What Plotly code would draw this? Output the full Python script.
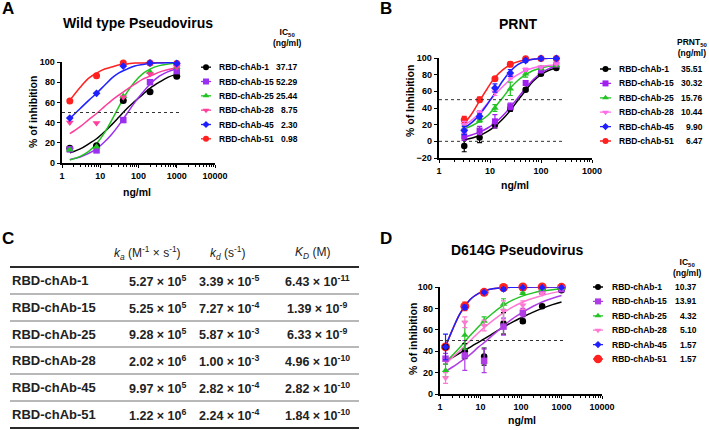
import plotly.graph_objects as go

W, H = 709, 430
FONT = "Liberation Sans"


def fx(p):
    return p / W


def fy(p):
    return 1 - p / H


names = ["RBD-chAb-1", "RBD-chAb-15", "RBD-chAb-25", "RBD-chAb-28", "RBD-chAb-45", "RBD-chAb-51"]
symbols = ["circle", "square", "triangle-up", "triangle-down", "diamond", "circle"]

# ---------------- Panel A : Wild type Pseudovirus ----------------
a_dose = [1.6, 8, 40, 200, 1000]
a_ab1 = [14.5, 17, 62, 70.5, 86]
a_ab15 = [13.5, 12.5, 42.5, 80, 91]
a_ab25 = [13, 16, 66, 90, 95]
a_ab28 = [40, 39.5, 65, 88, 95]
a_ab45 = [44.5, 69, 96, 99, 98.5]
a_ab51 = [61.5, 86.5, 99, 99, 98.5]
a_curve_x = [1.6, 3, 5, 8, 13, 20, 30, 50, 80, 130, 200, 350, 600, 1000]
a_fit_ab1 = [10, 14, 19, 24, 31, 38, 45, 54, 61, 68, 74, 80, 85, 88]
a_fit_ab15 = [3.5, 6, 9.5, 14, 21, 28.5, 37, 49, 60, 70, 78, 86, 90.5, 93]
a_fit_ab25 = [3, 6.5, 11.5, 19, 30, 42.5, 55, 70, 80.5, 88.5, 93, 96.4, 98, 99]
a_fit_ab28 = [29, 36, 43, 49, 56, 62, 67, 73, 78, 83, 86, 90, 92.5, 94.5]
a_fit_ab45 = [44, 54, 62, 69, 77, 84, 89, 93, 96, 97.5, 98.5, 99, 99.3, 99.5]
a_fit_ab51 = [62, 75, 84, 89, 93, 95, 97, 98, 99, 99, 99.5, 99.7, 99.8, 99.9]
a_ic50 = [37.17, 52.29, 25.44, 8.75, 2.30, 0.98]

# ---------------- Panel B : PRNT ----------------
b_dose = [3.125, 6.25, 12.5, 25, 50, 100, 200]
b_ab1 = [-5.5, 4.5, 20, 39, 62, 81, 88]
b_ab15 = [6, 13, 24, 42, 70, 85, 92]
b_ab25 = [16, 25, 40, 63, 81, 88, 91]
b_ab28 = [20, 34, 59, 78, 86, 89, 93]
b_ab45 = [13, 30, 64, 82, 97, 99.5, 99.5]
b_ab51 = [26, 50, 75, 92.5, 99, 99.5, 99.5]
b_err_ab1 = [7, 6, 4, 3, 1.5, 1.5, 1]
b_err_ab15 = [5, 5, 8, 4, 3, 2, 1]
b_err_ab25 = [3, 2, 4, 8, 4, 2, 1]
b_err_ab28 = [4, 3, 4, 3, 2, 1, 1]
b_err_ab45 = [5, 3, 5, 4, 2, 0.5, 0.5]
b_err_ab51 = [4, 3, 2, 3, 1, 0.5, 0.5]
b_curve_x = [3.125, 4.5, 6.25, 9, 12.5, 18, 25, 35, 50, 70, 100, 140, 200]
b_fit_ab1 = [2, 4, 7, 12, 18, 27, 37, 49, 61, 72, 80, 85, 88]
b_fit_ab15 = [5, 8, 11, 16, 22, 31, 41, 52, 64, 74, 82, 87, 90]
b_fit_ab25 = [15, 19, 24, 31, 41, 53, 64, 73, 80, 85, 88, 90, 91]
b_fit_ab28 = [19, 26, 34, 46, 56, 66, 74, 80, 85, 88, 90, 91, 91.5]
b_fit_ab45 = [16, 23, 32, 45, 58, 73, 84, 92, 96.5, 98.5, 99.3, 99.6, 99.8]
b_fit_ab51 = [21, 34, 48.5, 64, 76.5, 86, 92, 95.5, 97.5, 98.6, 99.3, 99.6, 99.8]
b_prnt50 = [35.51, 30.32, 15.76, 10.44, 9.90, 6.47]

# ---------------- Panel D : D614G Pseudovirus ----------------
d_dose = [1.37, 4.1, 12.3, 37, 111, 333, 1000]
d_ab1 = [44, 40, 35, 66, 68, 82, 97]
d_ab15 = [33, 36, 31, 63, 76, 96, 98]
d_ab25 = [22, 55, 68, 84, 94, 98, 99]
d_ab28 = [15, 67, 64, 78, 83, 94, 99]
d_ab45 = [44, 81, 95, 98, 99.5, 99.5, 99.5]
d_ab51 = [44, 82, 95, 99.5, 100, 100, 99.7]
d_err_ab1 = [2, 7, 8, 10, 2, 1, 1]
d_err_ab15 = [5, 14, 11, 8, 4, 2, 1]
d_err_ab25 = [6, 13, 4, 5, 1, 1, 0.5]
d_err_ab28 = [5, 5, 5, 9, 4, 1, 0.5]
d_err_ab45 = [12, 2, 1, 1.5, 0.5, 0.5, 0.5]
d_err_ab51 = [2, 4, 2, 1, 0.5, 0.5, 0.5]
d_curve_x = [1.37, 2, 3, 4.1, 6, 9, 12.3, 20, 37, 60, 111, 200, 333, 600, 1000]
d_fit_ab1 = [31, 34, 38, 41, 44.5, 48.5, 51.5, 56.5, 62.5, 67, 72, 76.5, 80, 83.5, 86]
d_fit_ab15 = [21, 25, 29.5, 33, 38, 44, 48, 55, 63.5, 70, 76.5, 82, 86, 89.5, 92]
d_fit_ab25 = [30, 36, 43, 49, 56, 63, 68.5, 75.5, 83, 87.5, 91.7, 94.5, 96.2, 97.5, 98.3]
d_fit_ab28 = [28, 34, 40, 45, 51, 57.5, 62, 68.5, 76, 81, 86, 89.5, 92, 94.5, 96]
d_fit_ab45 = [44.5, 59.5, 74, 82, 89.5, 94, 96.4, 98.3, 99.4, 99.7, 99.8, 99.9, 99.9, 99.9, 99.9]
d_fit_ab51 = [44.5, 59.5, 74, 82, 89.5, 94, 96.4, 98.3, 99.4, 99.7, 99.8, 99.9, 99.9, 99.9, 99.9]
d_ic50 = [10.37, 13.91, 4.32, 5.10, 1.57, 1.57]

# ---------------- Panel C : kinetics table ----------------
c_ka_mant = [5.27, 5.25, 9.28, 2.02, 9.97, 1.22]
c_ka_exp = [5, 5, 5, 6, 5, 6]
c_kd_mant = [3.39, 7.27, 5.87, 1.00, 2.82, 2.24]
c_kd_exp = [-5, -4, -3, -3, -4, -4]
c_KD_mant = [6.43, 1.39, 6.33, 4.96, 2.82, 1.84]
c_KD_exp = [-11, -9, -9, -10, -10, -10]

colors_a = ["#000000", "#9B2FEF", "#22C322", "#FF3D9A", "#1F1FFF", "#FF2020"]
colors_b = ["#000000", "#A020F0", "#22C322", "#FF6BEB", "#1F1FFF", "#FF2020"]
colors_d = ["#000000", "#B03CE6", "#22C322", "#FF78D2", "#1F1FFF", "#FF2020"]

fig = go.Figure()

draw_order = [5, 0, 1, 2, 3, 4]


def add_panel(xa, ya, dose, pts, errs, cx, fits, colors, sizes):
    for i in draw_order:
        fig.add_trace(go.Scatter(x=cx, y=fits[i], mode="lines", line=dict(color=colors[i], width=1.5, shape="spline"),
                                 xaxis=xa, yaxis=ya, hoverinfo="skip", cliponaxis=False))
    for i in draw_order:
        ey = None
        if errs is not None:
            ey = dict(type="data", array=errs[i], visible=True, thickness=1.2, width=2.5, color=colors[i])
        fig.add_trace(go.Scatter(x=dose, y=pts[i], mode="markers", error_y=ey,
                                 marker=dict(symbol=symbols[i], size=sizes[i], color=colors[i], line=dict(width=0)),
                                 xaxis=xa, yaxis=ya, name=names[i], cliponaxis=False))


add_panel("x", "y", a_dose, [a_ab1, a_ab15, a_ab25, a_ab28, a_ab45, a_ab51], None, a_curve_x,
          [a_fit_ab1, a_fit_ab15, a_fit_ab25, a_fit_ab28, a_fit_ab45, a_fit_ab51], colors_a, [7, 6.5, 7, 7, 6, 7])
add_panel("x2", "y2", b_dose, [b_ab1, b_ab15, b_ab25, b_ab28, b_ab45, b_ab51],
          [b_err_ab1, b_err_ab15, b_err_ab25, b_err_ab28, b_err_ab45, b_err_ab51], b_curve_x,
          [b_fit_ab1, b_fit_ab15, b_fit_ab25, b_fit_ab28, b_fit_ab45, b_fit_ab51], colors_b, [6.5, 6, 6.5, 6.5, 6, 7])
add_panel("x3", "y3", d_dose, [d_ab1, d_ab15, d_ab25, d_ab28, d_ab45, d_ab51],
          [d_err_ab1, d_err_ab15, d_err_ab25, d_err_ab28, d_err_ab45, d_err_ab51], d_curve_x,
          [d_fit_ab1, d_fit_ab15, d_fit_ab25, d_fit_ab28, d_fit_ab45, d_fit_ab51], colors_d, [6.5, 6.5, 6.5, 6.5, 5.5, 9])


# legend keys
def add_keys(xa, ya, colors, sizes):
    for i, n in enumerate(names):
        fig.add_trace(go.Scatter(x=[0, 1], y=[i, i], mode="lines", line=dict(color=colors[i], width=1.3),
                                 xaxis=xa, yaxis=ya, hoverinfo="skip", cliponaxis=False))
        fig.add_trace(go.Scatter(x=[0.5], y=[i], mode="markers",
                                 marker=dict(symbol=symbols[i], size=sizes[i], color=colors[i], line=dict(width=0)),
                                 xaxis=xa, yaxis=ya, hoverinfo="skip", cliponaxis=False))


add_keys("x4", "y4", colors_a, [6, 6, 6, 6, 5.5, 6])
add_keys("x5", "y5", colors_b, [6, 6, 6, 6, 5.5, 6])
add_keys("x6", "y6", colors_d, [6, 6, 6, 6, 5.5, 8.5])

minor_vals = [m * 10 ** k for k in range(0, 4) for m in range(2, 10)]
tickfont = dict(family=FONT, size=9, color="black", weight="bold")


def log_axis(d0, d1, rng, ticks, anchor):
    return dict(type="log", domain=[fx(d0), fx(d1)], range=rng, tickvals=ticks, ticktext=[str(t) for t in ticks],
                showline=True, linecolor="black", linewidth=1.6, ticks="outside", ticklen=3.5, tickwidth=1.3,
                tickcolor="black", tickfont=tickfont, showgrid=False, zeroline=False, anchor=anchor,
                automargin=False, fixedrange=True,
                minor=dict(tickmode="array", tickvals=minor_vals, ticks="outside", ticklen=2.5, tickwidth=1,
                           tickcolor="black", showgrid=False))


def lin_axis(p_top, p_bot, rng, ticks, anchor):
    return dict(domain=[fy(p_bot), fy(p_top)], range=rng, tickvals=ticks, showline=True, linecolor="black",
                linewidth=1.6, ticks="outside", ticklen=3.5, tickwidth=1.3, tickcolor="black", tickfont=tickfont,
                showgrid=False, zeroline=False, anchor=anchor, automargin=False, fixedrange=True)


def key_axes(x0, x1, top, bot):
    xa = dict(domain=[fx(x0), fx(x1)], range=[0, 1], visible=False, fixedrange=True)
    ya = dict(domain=[fy(bot), fy(top)], range=[5.5, -0.5], visible=False, fixedrange=True)
    return xa, ya


k4x, k4y = key_axes(201, 211, 60, 146)
k5x, k5y = key_axes(600, 611, 61.8, 148.2)
k6x, k6y = key_axes(593, 603, 279.8, 366.2)
k4x["anchor"], k4y["anchor"] = "y4", "x4"
k5x["anchor"], k5y["anchor"] = "y5", "x5"
k6x["anchor"], k6y["anchor"] = "y6", "x6"

fig.update_layout(
    width=W, height=H, margin=dict(l=0, r=0, t=0, b=0), showlegend=False,
    plot_bgcolor="white", paper_bgcolor="white",
    xaxis=log_axis(62, 215, [0, 4], [1, 10, 100, 1000, 10000], "y"),
    yaxis=lin_axis(62, 163, [0, 100], [0, 20, 40, 60, 80, 100], "x"),
    xaxis2=log_axis(439, 592, [0, 3], [1, 10, 100, 1000], "y2"),
    yaxis2=lin_axis(58, 158, [-20, 100], [-20, 0, 20, 40, 60, 80, 100], "x2"),
    xaxis3=log_axis(440, 602, [0, 4], [1, 10, 100, 1000, 10000], "y3"),
    yaxis3=lin_axis(287, 394, [0, 100], [0, 20, 40, 60, 80, 100], "x3"),
    xaxis4=k4x, yaxis4=k4y, xaxis5=k5x, yaxis5=k5y, xaxis6=k6x, yaxis6=k6y,
)

# reference (dotted) lines
ref_level = 50
dot = dict(color="#333333", width=1, dash="dot")
fig.add_shape(type="line", xref="x domain", yref="y", x0=0, x1=0.784, y0=ref_level, y1=ref_level, line=dot)
fig.add_shape(type="line", xref="x2 domain", yref="y2", x0=0, x1=0.81, y0=ref_level, y1=ref_level, line=dot)
fig.add_shape(type="line", xref="x2 domain", yref="y2", x0=0, x1=0.81, y0=0, y1=0, line=dot)
fig.add_shape(type="line", xref="x3 domain", yref="y3", x0=0, x1=0.76, y0=ref_level, y1=ref_level, line=dot)


def ann(text, x, y, size, xanchor="center", yanchor="middle", angle=0, color="black", bold=True):
    t = f"<b>{text}</b>" if bold else text
    fig.add_annotation(text=t, x=fx(x), y=fy(y), xref="paper", yref="paper", showarrow=False,
                       xanchor=xanchor, yanchor=yanchor, textangle=angle,
                       font=dict(family=FONT, size=size, color=color))


# panel letters
ann("A", 8, 9, 17)
ann("B", 386, 9, 17)
ann("C", 8, 238, 17)
ann("D", 386, 238, 17)

# titles and axis titles
ann("Wild type Pseudovirus", 138, 23, 14)
ann("PRNT", 518, 24, 14)
ann("D614G Pseudovirus", 517, 250, 14)
ann("% of inhibition", 33, 112, 10.5, angle=-90)
ann("% of Inhibition", 410, 101, 10.5, angle=-90)
ann("% of inhibition", 413, 339, 10.5, angle=-90)
ann("ng/ml", 137, 192, 10.5)
ann("ng/ml", 515, 185, 10.5)
ann("ng/ml", 522, 420, 10.5)

# legend texts
ann("IC<sub>50</sub><br>(ng/ml)", 287, 38, 8.5)
ann("PRNT<sub>50</sub><br>(ng/ml)", 692, 47, 8.5)
ann("IC<sub>50</sub><br>(ng/ml)", 687, 267, 8.5)
for i, n in enumerate(names):
    ya = 67.2 + 14.33 * i
    yb = 69 + 14.4 * i
    yd = 287 + 14.4 * i
    ann(n, 217, ya, 8.5, xanchor="left")
    ann(f"{a_ic50[i]:.2f}", 300, ya, 8.5, xanchor="right")
    ann(n, 617, yb, 8.5, xanchor="left")
    ann(f"{b_prnt50[i]:.2f}", 705, yb, 8.5, xanchor="right")
    ann(n, 610, yd, 8.5, xanchor="left")
    ann(f"{d_ic50[i]:.2f}", 699, yd, 8.5, xanchor="right")

# table C
tc = "#222222"
ann("<i>k<sub>a</sub></i> (M<sup>-1</sup> × s<sup>-1</sup>)", 147, 253, 12, color=tc, bold=False)
ann("<i>k<sub>d</sub></i> (s<sup>-1</sup>)", 227, 253, 12, color=tc, bold=False)
ann("<i>K<sub>D</sub></i> (M)", 312, 253, 12, color=tc, bold=False)
row_lines = [267, 294, 321, 347, 374, 401, 428]
for j, yl in enumerate(row_lines):
    thick = j == 0 or j == len(row_lines) - 1
    fig.add_shape(type="line", xref="paper", yref="paper", x0=fx(10), x1=fx(359), y0=fy(yl), y1=fy(yl),
                  line=dict(color="#2a2a2a" if thick else "#a0a0a0", width=2.2 if thick else 1.3))
for i, n in enumerate(names):
    yc = (row_lines[i] + row_lines[i + 1]) / 2
    ann(n, 10, yc, 13, xanchor="left", color=tc)
    ann(f"{c_ka_mant[i]:.2f} × 10<sup>{c_ka_exp[i]}</sup>", 157, yc, 12.5, color=tc)
    ann(f"{c_kd_mant[i]:.2f} × 10<sup>{c_kd_exp[i]}</sup>", 229, yc, 12.5, color=tc)
    ann(f"{c_KD_mant[i]:.2f} × 10<sup>{c_KD_exp[i]}</sup>", 317, yc, 12.5, color=tc)

fig.write_html("out.html", config={"displayModeBar": False},
               post_script="document.body.style.margin='0px';document.body.style.padding='0px';")
